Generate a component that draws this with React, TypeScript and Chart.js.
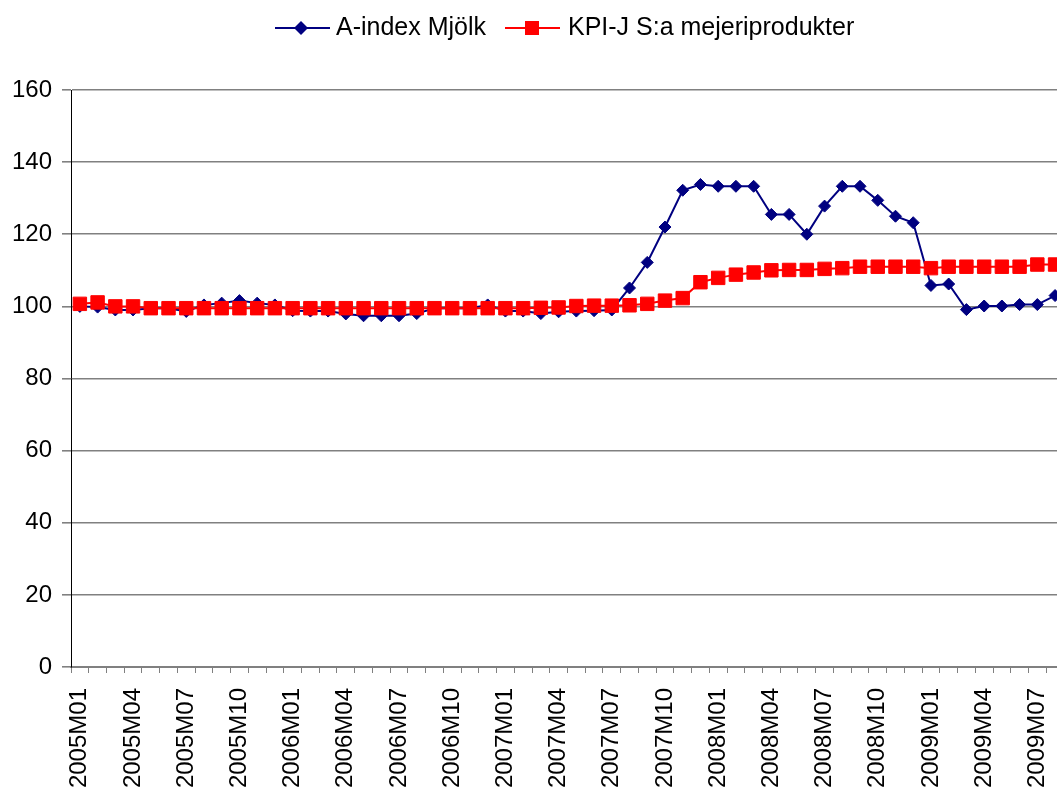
import React, { useEffect, useRef } from 'react';
import { Chart, registerables } from 'chart.js';

Chart.register(...registerables);

const categories = [
  '2005M01', '2005M02', '2005M03', '2005M04', '2005M05', '2005M06', '2005M07', '2005M08', '2005M09', '2005M10', '2005M11', '2005M12',
  '2006M01', '2006M02', '2006M03', '2006M04', '2006M05', '2006M06', '2006M07', '2006M08', '2006M09', '2006M10', '2006M11', '2006M12',
  '2007M01', '2007M02', '2007M03', '2007M04', '2007M05', '2007M06', '2007M07', '2007M08', '2007M09', '2007M10', '2007M11', '2007M12',
  '2008M01', '2008M02', '2008M03', '2008M04', '2008M05', '2008M06', '2008M07', '2008M08', '2008M09', '2008M10', '2008M11', '2008M12',
  '2009M01', '2009M02', '2009M03', '2009M04', '2009M05', '2009M06', '2009M07', '2009M08',
];

const shownXLabels = [
  '2005M01', '2005M04', '2005M07', '2005M10',
  '2006M01', '2006M04', '2006M07', '2006M10',
  '2007M01', '2007M04', '2007M07', '2007M10',
  '2008M01', '2008M04', '2008M07', '2008M10',
  '2009M01', '2009M04', '2009M07',
];

const aIndexMjolk = [
  100.0, 99.8, 99.0, 99.0, 99.5, 99.5, 98.6, 100.4, 100.9, 101.6, 100.9, 100.4,
  98.8, 98.7, 98.7, 97.9, 97.4, 97.4, 97.4, 98.0, 99.5, 99.5, 99.5, 100.4,
  98.7, 98.7, 98.0, 98.5, 98.7, 98.8, 99.0, 105.1, 112.2, 122.0, 132.2, 133.8,
  133.3, 133.3, 133.3, 125.5, 125.5, 120.0, 127.8, 133.3, 133.3, 129.4, 125.0, 123.2,
  105.8, 106.2, 99.1, 100.1, 100.1, 100.5, 100.5, 103.0,
];

const kpiMejeri = [
  100.7, 101.1, 100.0, 100.0, 99.5, 99.5, 99.5, 99.5, 99.5, 99.5, 99.5, 99.5,
  99.5, 99.5, 99.5, 99.5, 99.5, 99.5, 99.5, 99.5, 99.5, 99.5, 99.5, 99.5,
  99.5, 99.5, 99.6, 99.7, 100.1, 100.2, 100.2, 100.3, 100.7, 101.6, 102.3, 106.7,
  107.9, 108.8, 109.4, 110.0, 110.1, 110.1, 110.4, 110.6, 111.0, 111.0, 111.0, 111.0,
  110.6, 111.0, 111.0, 111.0, 111.0, 111.0, 111.6, 111.6,
];

const seriesNames = ['A-index Mjölk', 'KPI-J S:a mejeriprodukter'];
const yMin = 0;
const yMax = 160;
const yStep = 20;

const BLUE = '#000080';
const RED = '#ff0000';
const FONT = "'Liberation Sans', Arial, sans-serif";

const legendPlugin = {
  id: 'excelLegend',
  afterDraw(chart: any) {
    const ctx = chart.ctx as CanvasRenderingContext2D;
    ctx.save();
    const y = 28;
    ctx.strokeStyle = BLUE;
    ctx.lineWidth = 2;
    ctx.beginPath();
    ctx.moveTo(275, y);
    ctx.lineTo(330, y);
    ctx.stroke();
    ctx.fillStyle = BLUE;
    ctx.beginPath();
    ctx.moveTo(301 - 7, y);
    ctx.lineTo(301, y - 7);
    ctx.lineTo(301 + 7, y);
    ctx.lineTo(301, y + 7);
    ctx.closePath();
    ctx.fill();
    ctx.font = `25px ${FONT}`;
    ctx.fillStyle = '#000';
    ctx.textBaseline = 'middle';
    ctx.textAlign = 'left';
    ctx.fillText(seriesNames[0], 336, y);
    ctx.strokeStyle = RED;
    ctx.beginPath();
    ctx.moveTo(505, y);
    ctx.lineTo(560, y);
    ctx.stroke();
    ctx.fillStyle = RED;
    ctx.fillRect(532 - 7, y - 7, 14, 14);
    ctx.fillStyle = '#000';
    ctx.fillText(seriesNames[1], 568, y);
    ctx.restore();
  },
};

export default function App() {
  const ref = useRef<HTMLCanvasElement | null>(null);
  useEffect(() => {
    if (!ref.current) return;
    const chart = new Chart(ref.current, {
      type: 'line',
      data: {
        labels: categories,
        datasets: [
          {
            label: seriesNames[1],
            data: kpiMejeri,
            borderColor: RED,
            backgroundColor: RED,
            borderWidth: 2,
            pointStyle: 'rect',
            pointRadius: 9.5,
            pointBorderWidth: 1,
            pointBackgroundColor: RED,
            pointBorderColor: RED,
            tension: 0,
            order: 0,
          },
          {
            label: seriesNames[0],
            data: aIndexMjolk,
            borderColor: BLUE,
            backgroundColor: BLUE,
            borderWidth: 2,
            pointStyle: 'rectRot',
            pointRadius: 6,
            pointBorderWidth: 1,
            pointBackgroundColor: BLUE,
            pointBorderColor: BLUE,
            tension: 0,
            order: 1,
          },
        ],
      },
      options: {
        responsive: false,
        animation: false,
        layout: { padding: { top: 90, right: 15, left: 0, bottom: 0 } },
        plugins: {
          legend: { display: false },
          tooltip: { enabled: false },
        },
        scales: {
          x: {
            type: 'category',
            offset: true,
            grid: {
              offset: true,
              drawOnChartArea: false,
              drawTicks: true,
              tickLength: 6,
              color: '#808080',
            },
            border: { color: '#808080', width: 2 },
            ticks: {
              autoSkip: false,
              minRotation: 90,
              maxRotation: 90,
              padding: 15,
              color: '#000',
              font: { family: FONT, size: 24 },
              callback: function (this: any, _v: any, index: number) {
                const lab = categories[index];
                return shownXLabels.includes(lab) ? lab : '';
              },
            },
            afterFit: (s: any) => {
              s.height = 126;
            },
          },
          y: {
            min: yMin,
            max: yMax,
            grid: { color: '#808080', lineWidth: 1.6, tickLength: 9, drawTicks: true },
            border: { color: '#000', width: 1 },
            ticks: {
              stepSize: yStep,
              padding: 10,
              color: '#000',
              font: { family: FONT, size: 24 },
            },
            afterFit: (s: any) => {
              s.width = 71;
            },
          },
        },
      },
      plugins: [legendPlugin],
    });
    return () => chart.destroy();
  }, []);
  return (
    <div style={{ position: 'fixed', left: 0, top: 0, width: 1057, height: 793, overflow: 'hidden', background: '#fff' }}>
      <canvas ref={ref} width={1099} height={793} style={{ display: 'block' }} />
    </div>
  );
}
